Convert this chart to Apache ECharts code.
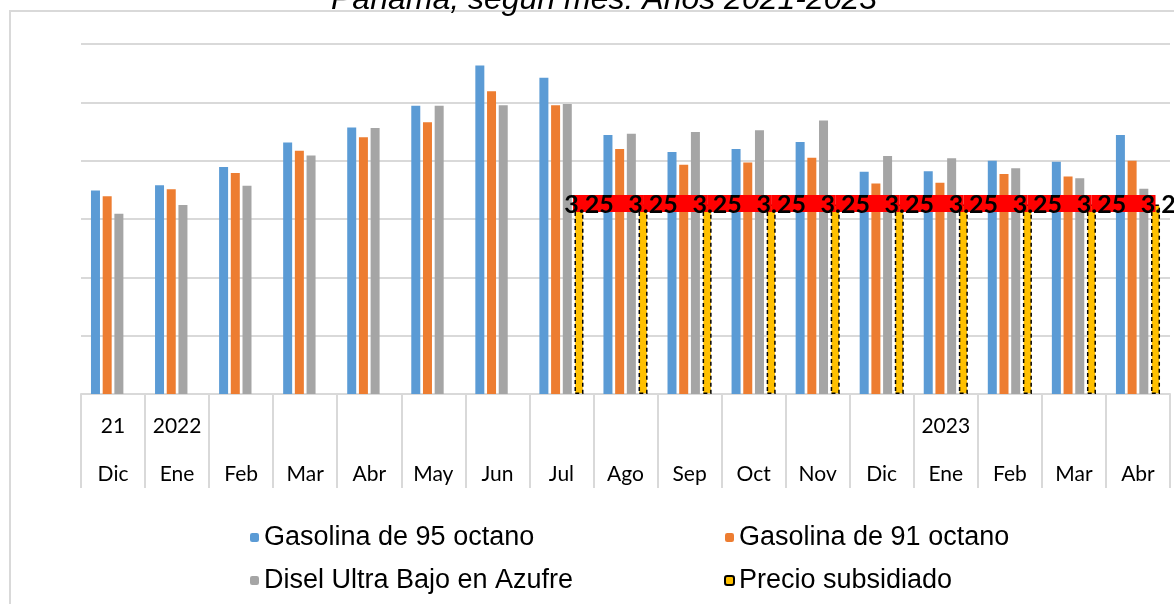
<!DOCTYPE html>
<html>
<head>
<meta charset="utf-8">
<script src="https://cdn.jsdelivr.net/npm/echarts@6/dist/echarts.min.js"></script>
<style>
  html, body { margin: 0; padding: 0; background: #fff; }
  #main { width: 1174px; height: 604px; }
</style>
</head>
<body>
<div id="main"></div>
<script>
// meses y años del eje
var meses = ['Dic', 'Ene', 'Feb', 'Mar', 'Abr', 'May', 'Jun', 'Jul', 'Ago', 'Sep', 'Oct', 'Nov', 'Dic', 'Ene', 'Feb', 'Mar', 'Abr'];
var anios = ['21', '2022', '', '', '', '', '', '', '', '', '', '', '', '2023', '', '', ''];

// precios por galón
var gas95 = [3.49, 3.58, 3.89, 4.31, 4.57, 4.94, 5.63, 5.42, 4.44, 4.15, 4.20, 4.32, 3.81, 3.82, 4.00, 3.98, 4.44];
var gas91 = [3.39, 3.51, 3.79, 4.17, 4.40, 4.66, 5.19, 4.95, 4.20, 3.93, 3.97, 4.05, 3.61, 3.62, 3.77, 3.73, 4.00];
var disel = [3.09, 3.24, 3.57, 4.09, 4.56, 4.94, 4.95, 4.97, 4.46, 4.49, 4.52, 4.69, 4.08, 4.04, 3.87, 3.70, 3.52];
var subsidio = [null, null, null, null, null, null, null, 3.25, 3.25, 3.25, 3.25, 3.25, 3.25, 3.25, 3.25, 3.25, 3.25];

var nombres = ['Gasolina de 95 octano', 'Gasolina de 91 octano', 'Disel Ultra Bajo en Azufre', 'Precio subsidiado'];

var barW = 9;
var gapPct = 0.3;
// desplazamiento de la 4a barra respecto al centro de la categoría
var offAmarilla = 1.5 * (barW + barW * gapPct);

// puntos para la banda roja (solo meses con subsidio)
var puntos = [];
subsidio.forEach(function (v, i) {
  if (v != null) puntos.push([i, v]);
});

var myChart = echarts.init(document.getElementById('main'));

var legendText = { fontFamily: 'Liberation Sans', fontSize: 27, color: '#000', lineHeight: 26 };

var option = {
  animation: false,
  title: {
    text: 'Panamá, según mes: Años 2021-2023',
    left: 326,
    top: -21,
    textStyle: {
      fontFamily: 'Liberation Sans',
      fontStyle: 'italic',
      fontWeight: 'normal',
      fontSize: 32,
      color: '#000'
    }
  },
  graphic: [{
    type: 'rect',
    shape: { x: 10, y: 11, width: 1300, height: 700 },
    style: { fill: 'none', stroke: '#D9D9D9', lineWidth: 2 },
    silent: true
  }],
  legend: [{
    data: [nombres[0], nombres[2]],
    orient: 'vertical',
    left: 245,
    top: 519,
    itemWidth: 9,
    itemHeight: 9,
    itemGap: 16,
    textStyle: legendText
  }, {
    data: [nombres[1], nombres[3]],
    orient: 'vertical',
    left: 719,
    top: 519,
    itemWidth: 9,
    itemHeight: 9,
    itemGap: 16,
    textStyle: legendText
  }],
  grid: {
    left: 81,
    right: 4,
    top: 44,
    bottom: 210,
    containLabel: false
  },
  xAxis: {
    type: 'category',
    data: meses,
    axisLine: { lineStyle: { color: '#D9D9D9', width: 2 } },
    axisTick: { show: true, interval: 0, length: 94, lineStyle: { color: '#D9D9D9', width: 2 } },
    axisLabel: {
      interval: 0,
      margin: 8,
      formatter: function (val, idx) {
        var a = anios[idx] || ' ';
        return '{y|' + a + '}\n{m|' + val + '}';
      },
      rich: {
        y: { fontFamily: 'Lato', fontSize: 21, lineHeight: 48, color: '#000' },
        m: { fontFamily: 'Lato', fontSize: 21, lineHeight: 48, color: '#000' }
      }
    }
  },
  yAxis: {
    type: 'value',
    min: 0,
    max: 6,
    interval: 1,
    axisLabel: { show: false },
    axisLine: { show: false },
    axisTick: { show: false },
    splitLine: { lineStyle: { color: '#D9D9D9', width: 2 } }
  },
  series: [{
    name: nombres[0],
    type: 'bar',
    barWidth: barW,
    barGap: '30%',
    itemStyle: { color: '#5B9BD5' },
    data: gas95
  }, {
    name: nombres[1],
    type: 'bar',
    barWidth: barW,
    barGap: '30%',
    itemStyle: { color: '#ED7D31' },
    data: gas91
  }, {
    name: nombres[2],
    type: 'bar',
    barWidth: barW,
    barGap: '30%',
    itemStyle: { color: '#A5A5A5' },
    data: disel
  }, {
    name: nombres[3],
    type: 'bar',
    barWidth: barW,
    barGap: '30%',
    itemStyle: { color: '#FFC000', borderColor: '#000', borderWidth: 1.5, borderType: [4, 3] },
    data: subsidio
  }, {
    // banda roja con las etiquetas del precio subsidiado
    name: 'banda',
    type: 'custom',
    z: 10,
    encode: { x: 0, y: 1 },
    data: puntos,
    renderItem: function (params, api) {
      var i = params.dataIndex;
      var p = api.coord([api.value(0), api.value(1)]);
      var x0 = p[0] + offAmarilla;
      var kids = [];
      if (i < puntos.length - 1) {
        var q = api.coord(puntos[i + 1]);
        kids.push({
          type: 'line',
          shape: { x1: i === 0 ? x0 - 6 : x0, y1: p[1] - 1, x2: q[0] + offAmarilla, y2: q[1] - 1 },
          style: { stroke: '#FF0000', lineWidth: 17 },
          z2: 1
        });
      }
      kids.push({
        type: 'text',
        x: x0 + 10,
        y: p[1] + 1,
        style: {
          text: api.value(1).toFixed(2),
          fill: '#000',
          font: 'bold 25px Lato',
          align: 'center',
          verticalAlign: 'middle'
        },
        z2: 5
      });
      return { type: 'group', children: kids };
    }
  }]
};

myChart.setOption(option);
</script>
</body>
</html>
